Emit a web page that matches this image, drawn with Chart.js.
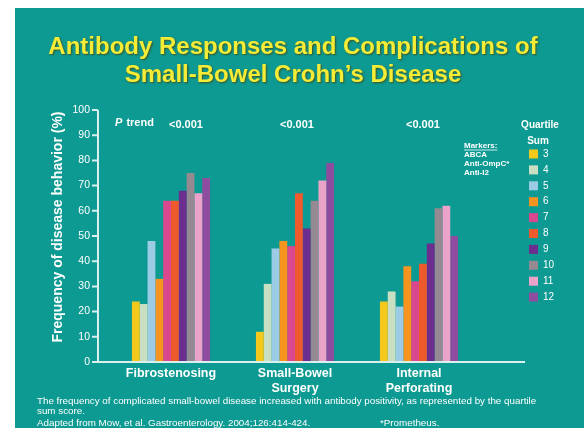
<!DOCTYPE html>
<html>
<head>
<meta charset="utf-8">
<script src="https://cdn.jsdelivr.net/npm/chart.js@4.4.1/dist/chart.umd.min.js"></script>
<style>
  html, body { margin: 0; padding: 0; background: #ffffff; }
  #wrap { width: 584px; height: 438px; }
</style>
</head>
<body>
<div id="wrap"><canvas id="chart" width="584" height="438"></canvas></div>
<script>
// ---- data ----
const categories = [['Fibrostenosing'], ['Small-Bowel', 'Surgery'], ['Internal', 'Perforating']];
const quartileSums = ['3', '4', '5', '6', '7', '8', '9', '10', '11', '12'];
const sum3  = [24, 12, 24];
const sum4  = [23, 31, 28];
const sum5  = [48, 45, 22];
const sum6  = [33, 48, 38];
const sum7  = [64, 46, 32];
const sum8  = [64, 67, 39];
const sum9  = [68, 53, 47];
const sum10 = [75, 64, 61];
const sum11 = [67, 72, 62];
const sum12 = [73, 79, 50];
const seriesValues = [sum3, sum4, sum5, sum6, sum7, sum8, sum9, sum10, sum11, sum12];
const pTrend = ['<0.001', '<0.001', '<0.001'];
const yTickValues = [0, 10, 20, 30, 40, 50, 60, 70, 80, 90, 100];

const titleLines = ['Antibody Responses and Complications of', 'Small-Bowel Crohn\u2019s Disease'];
const yTitle = 'Frequency of disease behavior (%)';
const markerLines = ['Markers:', 'ABCA', 'Anti-OmpC*', 'Anti-I2'];
const footnotes = [
  'The frequency of complicated small-bowel disease increased with antibody positivity, as represented by the quartile',
  'sum score.',
  'Adapted from Mow, et al. Gastroenterology. 2004;126:414-424.'
];
const footnoteRight = '*Prometheus.';

// ---- styles ----
const FONT = "'Liberation Sans', Arial, sans-serif";
const TEAL = '#0d9a92';
const AXIS = '#d9f0ee';
const palette = ['#f5c81c', '#c9dfc2', '#9ccbe6', '#f7941f', '#d9488f',
                 '#ee5a2b', '#6b2d8e', '#958a92', '#eba3c9', '#8e4d9f'];

const datasets = quartileSums.map((q, i) => ({
  label: q,
  data: seriesValues[i],
  backgroundColor: palette[i],
  borderWidth: 0,
  categoryPercentage: 0.63,
  barPercentage: 1.0
}));

const slide = {
  id: 'slide',
  beforeDraw(chart) {
    const ctx = chart.ctx;
    ctx.save();
    ctx.fillStyle = '#ffffff';
    ctx.fillRect(0, 0, chart.width, chart.height);
    ctx.fillStyle = TEAL;
    ctx.fillRect(15, 8, chart.width - 15, 420);

    // headline
    ctx.font = `bold 24px ${FONT}`;
    ctx.textAlign = 'center';
    ctx.textBaseline = 'middle';
    ctx.shadowColor = 'rgba(70,70,10,0.85)';
    ctx.shadowBlur = 2;
    ctx.shadowOffsetX = 1;
    ctx.shadowOffsetY = 1;
    ctx.fillStyle = '#f4ec36';
    titleLines.forEach((t, i) => ctx.fillText(t, 293, 47 + i * 28));
    ctx.restore();
  },
  afterDatasetsDraw(chart) {
    const ctx = chart.ctx;
    const area = chart.chartArea;
    const xs = chart.scales.x;
    const ys = chart.scales.y;
    const ax = area.left - 11;
    const y0 = ys.getPixelForValue(0);
    const yTop = ys.getPixelForValue(100);

    ctx.save();
    // axes
    ctx.strokeStyle = AXIS;
    ctx.lineWidth = 2;
    ctx.beginPath();
    ctx.moveTo(ax, yTop);
    ctx.lineTo(ax, y0);
    ctx.moveTo(ax - 6, y0);
    ctx.lineTo(area.right + 44, y0);
    yTickValues.forEach(v => {
      const py = ys.getPixelForValue(v);
      ctx.moveTo(ax - 6, py);
      ctx.lineTo(ax, py);
    });
    ctx.stroke();

    // vertical axis title
    ctx.fillStyle = '#ffffff';
    ctx.save();
    ctx.translate(58, 227);
    ctx.rotate(-Math.PI / 2);
    ctx.textAlign = 'center';
    ctx.textBaseline = 'middle';
    ctx.font = `bold 14px ${FONT}`;
    ctx.fillText(yTitle, 0, 0);
    ctx.restore();

    // P trend annotations
    ctx.textBaseline = 'middle';
    ctx.textAlign = 'left';
    ctx.font = `italic bold 11px ${FONT}`;
    ctx.fillText('P', 115, 123);
    ctx.font = `bold 11px ${FONT}`;
    ctx.fillText(' trend', 115 + ctx.measureText('P').width + 1, 123);
    const shift = [15, 2, 4];
    ctx.textAlign = 'center';
    pTrend.forEach((p, i) => {
      ctx.fillText(p, xs.getPixelForValue(i) + shift[i], 125);
    });

    // marker list
    ctx.textAlign = 'left';
    ctx.font = `bold 8px ${FONT}`;
    markerLines.forEach((t, i) => {
      const py = 146 + i * 9;
      ctx.fillText(t, 464, py);
      if (i === 0) {
        const w = ctx.measureText(t).width;
        ctx.fillRect(464, py + 3.6, w, 0.8);
      }
    });

    // legend
    ctx.textAlign = 'center';
    ctx.font = `bold 10px ${FONT}`;
    ctx.fillText('Quartile', 540, 125);
    ctx.fillText('Sum', 538, 141);
    ctx.textAlign = 'left';
    ctx.font = `10px ${FONT}`;
    chart.data.datasets.forEach((ds, i) => {
      const py = 154 + i * 15.9;
      ctx.fillStyle = ds.backgroundColor;
      ctx.fillRect(529, py - 4.5, 9, 9);
      ctx.fillStyle = '#ffffff';
      ctx.fillText(ds.label, 543, py);
    });

    // footnotes
    ctx.font = `9.8px ${FONT}`;
    footnotes.forEach((t, i) => ctx.fillText(t, 37, [401, 411, 423][i]));
    ctx.fillText(footnoteRight, 380, 423);
    ctx.restore();
  }
};

new Chart(document.getElementById('chart'), {
  type: 'bar',
  data: { labels: categories, datasets },
  options: {
    responsive: false,
    devicePixelRatio: 1,
    animation: false,
    layout: { padding: { left: 50, right: 103, top: 110, bottom: 36 } },
    plugins: { legend: { display: false }, title: { display: false }, tooltip: { enabled: false } },
    scales: {
      x: {
        type: 'category',
        grid: { display: false, drawTicks: false },
        border: { display: false },
        ticks: { color: '#ffffff', font: { family: FONT, size: 12.5, weight: 'bold' }, padding: 4, maxRotation: 0, autoSkip: false },
        afterFit(scale) { scale.height = 40; }
      },
      y: {
        min: 0,
        max: 100,
        grid: { display: false, drawTicks: false },
        border: { display: false },
        ticks: { stepSize: 10, color: '#ffffff', font: { family: FONT, size: 10.5 }, padding: 19 },
        afterFit(scale) { scale.width = 59; }
      }
    }
  },
  plugins: [slide]
});
</script>
</body>
</html>
